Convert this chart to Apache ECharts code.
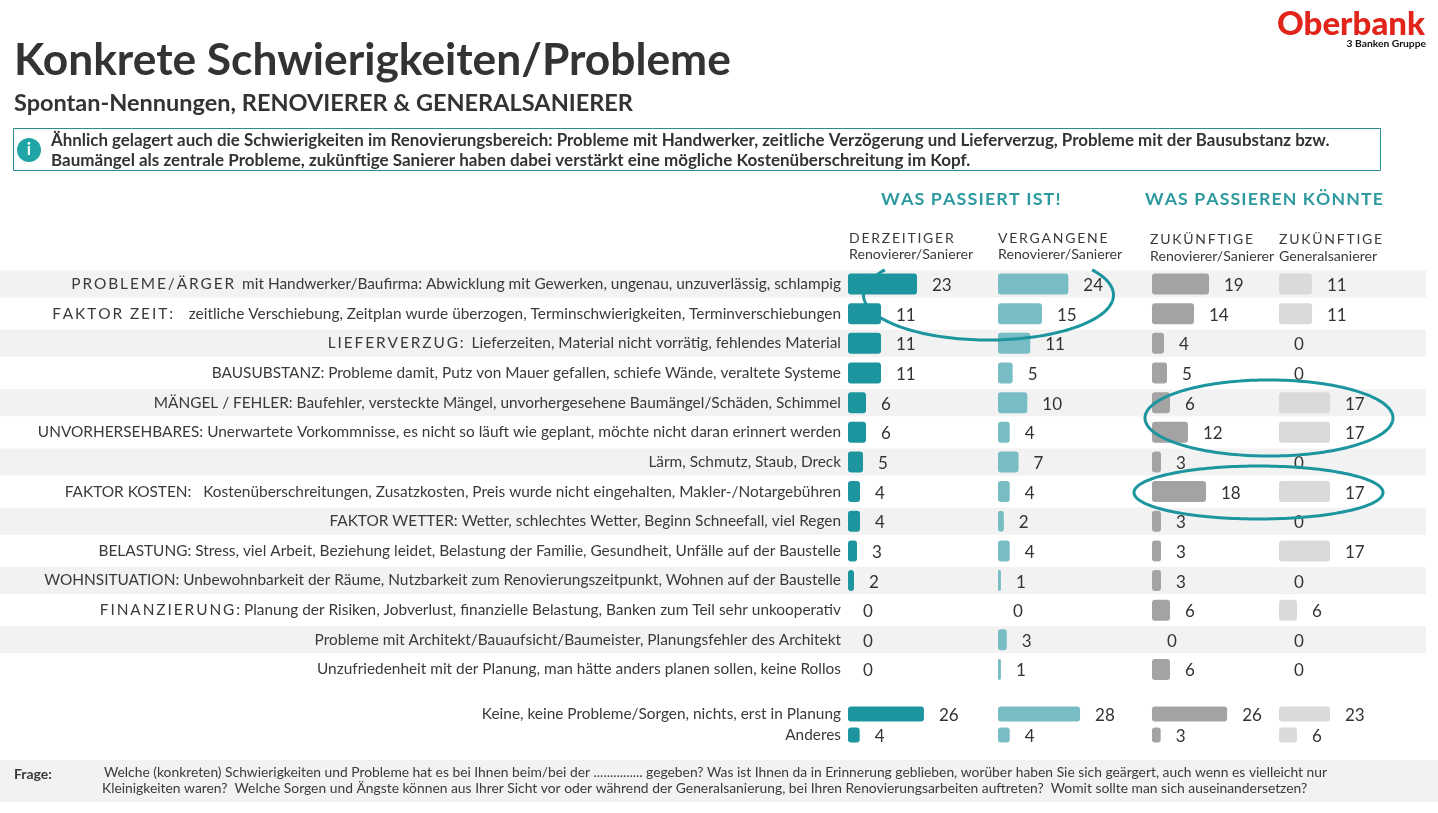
<!DOCTYPE html>
<html lang="de">
<head>
    <meta charset="UTF-8">
    <title>Konkrete Schwierigkeiten/Probleme</title>
    <script src="https://cdn.jsdelivr.net/npm/echarts@6/dist/echarts.min.js"></script>
    <style>
        html, body { margin: 0; padding: 0; background: #fff; }
    </style>
</head>
<body>
<div id="chart" style="width: 1438px;height:813px;"></div>
<script>
    // gesperrte Schrift: canvas kennt kein letter-spacing
    function spaced(s, n) {
        return s.split('').join('\u200a'.repeat(n || 1));
    }

    const categories = [
        spaced('PROBLEME/ÄRGER', 2) + '  mit Handwerker/Baufirma: Abwicklung mit Gewerken, ungenau, unzuverlässig, schlampig',
        spaced('FAKTOR ZEIT:', 2) + '    zeitliche Verschiebung, Zeitplan wurde überzogen, Terminschwierigkeiten, Terminverschiebungen',
        spaced('LIEFERVERZUG:', 2) + '  Lieferzeiten, Material nicht vorrätig, fehlendes Material',
        'BAUSUBSTANZ: Probleme damit, Putz von Mauer gefallen, schiefe Wände, veraltete Systeme',
        'MÄNGEL / FEHLER: Baufehler, versteckte Mängel, unvorhergesehene Baumängel/Schäden, Schimmel',
        'UNVORHERSEHBARES: Unerwartete Vorkommnisse, es nicht so läuft wie geplant, möchte nicht daran erinnert werden',
        'Lärm, Schmutz, Staub, Dreck',
        'FAKTOR KOSTEN:   Kostenüberschreitungen, Zusatzkosten, Preis wurde nicht eingehalten, Makler-/Notargebühren',
        'FAKTOR WETTER: Wetter, schlechtes Wetter, Beginn Schneefall, viel Regen',
        'BELASTUNG: Stress, viel Arbeit, Beziehung leidet, Belastung der Familie, Gesundheit, Unfälle auf der Baustelle',
        'WOHNSITUATION: Unbewohnbarkeit der Räume, Nutzbarkeit zum Renovierungszeitpunkt, Wohnen auf der Baustelle',
        spaced('FINANZIERUNG:', 2) + ' Planung der Risiken, Jobverlust, finanzielle Belastung, Banken zum Teil sehr unkooperativ',
        'Probleme mit Architekt/Bauaufsicht/Baumeister, Planungsfehler des Architekt',
        'Unzufriedenheit mit der Planung, man hätte anders planen sollen, keine Rollos'
    ];
    const extraCategories = ['Keine, keine Probleme/Sorgen, nichts, erst in Planung', 'Anderes'];

    const derzeitig = [23, 11, 11, 11, 6, 6, 5, 4, 4, 3, 2, 0, 0, 0];
    const vergangen = [24, 15, 11, 5, 10, 4, 7, 4, 2, 4, 1, 0, 3, 1];
    const zukuenftig = [19, 14, 4, 5, 6, 12, 3, 18, 3, 3, 3, 6, 0, 6];
    const general = [11, 11, 0, 0, 17, 17, 0, 17, 0, 17, 0, 6, 0, 0];

    const derzeitigExtra = [26, 4];
    const vergangenExtra = [28, 4];
    const zukuenftigExtra = [26, 3];
    const generalExtra = [23, 6];
    // im Original ist der Balken zu "23" nur so lang wie 17
    const generalExtraBars = [17, 6];

    // graue Zeilen hinter den Balken
    const bands = [1, 0, 1, 0, 1, 0, 1, 0, 1, 0, 1, 0, 1, 0];

    const teal = '#1c959e';
    const textColor = '#3a3a3a';
    const font = 'Lato';

    const columns = [
        {left: 848, width: 300, extraWidth: 292, color: teal, data: derzeitig, extra: derzeitigExtra},
        {left: 998, width: 293, extraWidth: 293, color: '#78bdc4', data: vergangen, extra: vergangenExtra},
        {left: 1152, width: 300, extraWidth: 289, color: '#a3a3a3', data: zukuenftig, extra: zukuenftigExtra},
        {left: 1279, width: 300, extraWidth: 300, color: '#dadada', data: general, extra: generalExtraBars, extraLabels: generalExtra}
    ];

    const rowTop = 269.2, rowHeight = 415.1;
    const extraTop = 703.5, extraHeight = 42;

    let grids = [], xAxes = [], yAxes = [], series = [];

    function addGrid(left, width, top, height, cats, max, showLabels) {
        const i = grids.length;
        grids.push({left: left, width: width, top: top, height: height, outerBoundsMode: 'none'});
        xAxes.push({type: 'value', gridIndex: i, min: 0, max: max, show: false});
        yAxes.push({
            type: 'category', gridIndex: i, data: cats, inverse: true, z: 5,
            axisLine: {show: false}, axisTick: {show: false}, splitLine: {show: false},
            axisLabel: {
                show: showLabels, interval: 0, margin: 7, align: 'right', padding: [4, 0, 0, 0],
                fontFamily: font, fontSize: 15.4, color: textColor
            }
        });
        return i;
    }

    function addBars(i, name, data, color, barWidth, labels) {
        series.push({
            type: 'bar', name: name, xAxisIndex: i, yAxisIndex: i, data: data,
            barWidth: barWidth, silent: true, z: 3,
            itemStyle: {color: color, borderRadius: 3},
            label: {
                show: true, position: 'right', distance: 15, offset: [0, 1.5],
                fontFamily: font, fontSize: 17, color: '#333',
                formatter: function (p) {
                    return labels ? labels[p.dataIndex] : p.value;
                }
            }
        });
    }

    // Zeilenhintergrund
    let bandGrid = addGrid(0, 1426, rowTop, rowHeight, categories, 1, false);
    series.push({
        type: 'bar', xAxisIndex: bandGrid, yAxisIndex: bandGrid, data: bands,
        barWidth: 27, silent: true, z: 1, itemStyle: {color: '#f2f2f2'}
    });

    columns.forEach(function (c, n) {
        let g = addGrid(c.left, c.width, rowTop, rowHeight, categories, 100, n === 0);
        addBars(g, 'col' + n, c.data, c.color, 21);
        let e = addGrid(c.left, c.extraWidth, extraTop, extraHeight, extraCategories, 100, n === 0);
        addBars(e, 'extra' + n, c.extra, c.color, 15, c.extraLabels);
    });

    function txt(x, y, text, size, weight, color, align) {
        return {
            type: 'text', x: x, y: y, z: 5, silent: true,
            style: {
                text: text, fontFamily: font, fontSize: size, fontWeight: weight || 'normal',
                fill: color || textColor, align: align || 'left', verticalAlign: 'middle'
            }
        };
    }

    // handgezeichnete Markierung, Winkel in Grad
    function ring(cx, cy, rx, ry, from, to) {
        let points = [];
        for (let t = from; t <= to; t += 2) {
            const a = t * Math.PI / 180;
            points.push([cx + rx * Math.cos(a), cy + ry * Math.sin(a)]);
        }
        return {
            type: 'polyline', z: 10, silent: true, shape: {points: points},
            style: {fill: null, stroke: teal, lineWidth: 3}
        };
    }

    const graphics = [
        {type: 'rect', z: 0, silent: true, shape: {x: 0, y: 760, width: 1438, height: 42}, style: {fill: '#f2f2f2'}},
        {type: 'rect', z: 0, silent: true, shape: {x: 13.5, y: 128.5, width: 1367, height: 42}, style: {fill: '#fff', stroke: '#2e8b8f', lineWidth: 1}},
        {type: 'circle', z: 4, silent: true, shape: {cx: 29, cy: 150, r: 12}, style: {fill: '#1fa5a5'}},
        txt(29, 150, 'i', 17, 'bold', '#fff', 'center'),

        txt(14, 61, 'Konkrete Schwierigkeiten/Probleme', 44.3, 'bold', '#333'),
        txt(14, 103, 'Spontan-Nennungen, RENOVIERER & GENERALSANIERER', 23.5, 'bold', '#333'),
        txt(51, 141, 'Ähnlich gelagert auch die Schwierigkeiten im Renovierungsbereich: Probleme mit Handwerker, zeitliche Verzögerung und Lieferverzug, Probleme mit der Bausubstanz bzw.', 16.9, 'bold', '#333'),
        txt(51, 161, 'Baumängel als zentrale Probleme, zukünftige Sanierer haben dabei verstärkt eine mögliche Kostenüberschreitung im Kopf.', 17, 'bold', '#333'),

        txt(1425, 24, 'Oberbank', 33, 900, '#e1251b', 'right'),
        txt(1426, 44, '3 Banken Gruppe', 10.3, 'bold', '#111', 'right'),

        txt(881, 199, spaced('WAS PASSIERT IST!'), 17.9, 'bold', '#2e9aa0'),
        txt(1145, 199, spaced('WAS PASSIEREN KÖNNTE'), 17.7, 'bold', '#2e9aa0'),

        txt(849, 238, spaced('DERZEITIGER', 2), 14),
        txt(849, 254, 'Renovierer/Sanierer', 14.2),
        txt(998, 238, spaced('VERGANGENE', 2), 14),
        txt(998, 254, 'Renovierer/Sanierer', 14.2),
        txt(1150, 239, spaced('ZUKÜNFTIGE', 2), 14),
        txt(1150, 256, 'Renovierer/Sanierer', 14.2),
        txt(1279, 239, spaced('ZUKÜNFTIGE', 2), 14),
        txt(1279, 256, 'Generalsanierer', 14.2),

        txt(14, 774, 'Frage:', 14, 'bold'),
        txt(104, 773, 'Welche (konkreten) Schwierigkeiten und Probleme hat es bei Ihnen beim/bei der ............... gegeben? Was ist Ihnen da in Erinnerung geblieben, worüber haben Sie sich geärgert, auch wenn es vielleicht nur', 13.83),
        txt(102, 789, 'Kleinigkeiten waren?  Welche Sorgen und Ängste können aus Ihrer Sicht vor oder während der Generalsanierung, bei Ihren Renovierungsarbeiten auftreten?  Womit sollte man sich auseinandersetzen?', 13.85),

        // erster Kreis ist oben abgeschnitten
        ring(988.5, 295, 125, 45, -34, 214),
        ring(1269, 418, 124, 38, 0, 360),
        ring(1258.5, 492.5, 124.5, 26.5, 0, 360)
    ];

    let chart = echarts.init(document.getElementById('chart'));
    chart.setOption({
        animation: false,
        backgroundColor: '#fff',
        grid: grids,
        xAxis: xAxes,
        yAxis: yAxes,
        series: series,
        graphic: {elements: graphics}
    });
</script>
</body>
</html>
